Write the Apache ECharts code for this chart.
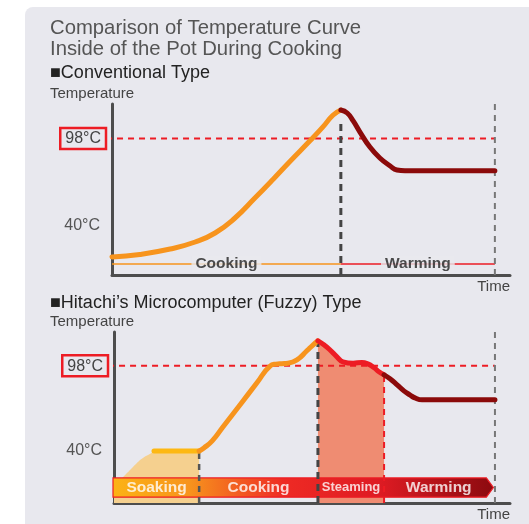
<!DOCTYPE html>
<html><head><meta charset="utf-8">
<script src="https://cdn.jsdelivr.net/npm/echarts@6/dist/echarts.min.js"></script>
<style>html,body{margin:0;padding:0;background:#fff}#c{width:529px;height:524px}</style>
</head><body><div id="c"></div>
<script>
// ---------- texts ----------
const titleLines = ['Comparison of Temperature Curve', 'Inside of the Pot During Cooking'];
const topHeading = '■Conventional Type';
const bottomHeading = '■Hitachi\u2019s Microcomputer (Fuzzy) Type';
const yAxisName = 'Temperature';
const xAxisName = 'Time';
const tempTicks = [40, 98];
const highlightTemp = 98;

// ---------- conventional type (time as % of axis, temperature °C, schematic) ----------
const convCookTime = [0, 7.0, 14.6, 20.9, 25.9, 30.9, 35.9, 40.5, 44.7, 49.8, 53.0, 55.5, 57.5];
const convCookTemp = [19, 20.7, 24.3, 29, 35, 45, 58.3, 70.9, 82.7, 96.6, 105.7, 113.5, 117];
const convWarmTime = [57.5, 59.1, 60.6, 62.3, 64.8, 67.3, 69.9, 71.6, 73.6, 96.2];
const convWarmTemp = [117, 115, 109.7, 102.3, 92.3, 85, 79.7, 77, 76.5, 76.5];
const convPhases = ['Cooking', 'Warming'];
const convPhaseBounds = [0, 57.5, 96.2];
const convPeakMarkTemp = 109;

// ---------- fuzzy type ----------
const soakFillTime = [0, 1.0, 2.3, 4.3, 5.8, 7.3, 8.6, 10.1, 11.6, 21.5];
const soakFillTemp = [15.4, 18.1, 22.2, 27.7, 31.8, 35.2, 37.2, 39.3, 40, 40];
const soakTime = [10.1, 21.5];
const soakTemp = [40, 40];
const cookTime = [21.5, 22.7, 24.8, 27.5, 31.8, 36.1, 39.4, 40.9, 42.4, 43.9, 46.2, 48.7, 50.3, 51.5];
const cookTemp = [40, 42.0, 46.8, 56.3, 71.3, 86.4, 97.8, 99.1, 99.4, 99.7, 102.0, 108.2, 112.3, 115.0];
const steamTime = [51.5, 53.0, 54.5, 56.3, 57.8, 60.4, 62.6, 64.1, 65.7, 66.9, 68.2];
const steamTemp = [115.0, 112.3, 108.9, 104.1, 100.7, 99.7, 100.3, 99.3, 96.6, 93.9, 91.8];
const warmTime = [68.2, 69.7, 71.5, 73.2, 74.7, 76.0, 77.8, 96.2];
const warmTemp = [91.8, 89.1, 85, 80.9, 78.2, 76.1, 74.8, 74.8];
const fuzzyPhases = ['Soaking', 'Cooking', 'Steaming', 'Warming'];
const fuzzyPhaseBounds = [0, 21.5, 51.5, 68.2, 95.8];
const fuzzyEndTime = 96.2;

// ---------- helpers ----------
const zip = (xs, ys) => xs.map((x, i) => [x, ys[i]]);
const PANEL = '#e8e8ee';
const FONT = '"Liberation Sans", Arial, Helvetica, sans-serif';
const ORANGE = '#f7941d', YELLOW = '#fdb813', RED = '#ed1c24', DARKRED = '#8b0a0a';
const SMOOTH = 0.5;

const chart = echarts.init(document.getElementById('c'), null, {renderer: 'canvas'});

function xAx(grid) {
  return {
    gridIndex: grid, type: 'value', min: 0, max: 100,
    axisLine: {lineStyle: {color: '#4d4d4d', width: 3}},
    axisTick: {show: false}, axisLabel: {show: false}, splitLine: {show: false},
    name: xAxisName, nameLocation: 'end', nameGap: 0,
    nameTextStyle: {color: '#444', fontSize: 15, fontFamily: FONT, align: 'right', verticalAlign: 'top', padding: [4, 0, 0, 0]}
  };
}
function yAx(grid, min, max) {
  return {
    gridIndex: grid, type: 'value', min: min, max: max,
    axisLine: {show: true, lineStyle: {color: '#4d4d4d', width: 3}},
    axisTick: {show: false}, splitLine: {show: false},
    axisLabel: {
      customValues: tempTicks, margin: 6,
      formatter: v => (v === highlightTemp ? '{box|' + v + '°C}' : '{plain|' + v + '°C}'),
      rich: {
        box: {fontSize: 16, color: '#444', fontFamily: FONT, borderColor: RED, borderWidth: 2.5, padding: [3, 5, 2, 5]},
        plain: {fontSize: 16, color: '#555', fontFamily: FONT, padding: [0, 6, 0, 0]}
      }
    }
  };
}
function curve(grid, data, color, extra) {
  return Object.assign({
    type: 'line', xAxisIndex: grid, yAxisIndex: grid, data: data, smooth: SMOOTH,
    symbol: 'none', silent: true, z: 6,
    lineStyle: {color: color, width: 5, cap: 'round', join: 'round'}
  }, extra || {});
}
function vline(grid, t, t0, t1, color, width, dash, z) {
  return {
    type: 'line', xAxisIndex: grid, yAxisIndex: grid, data: [[t, t0], [t, t1]], symbol: 'none', silent: true,
    z: z || 5, clip: false, lineStyle: {color: color, width: width, type: dash}
  };
}
function hline(grid, y, x0, x1, color, width, dash, z) {
  return {
    type: 'line', xAxisIndex: grid, yAxisIndex: grid, data: [[x0, y], [x1, y]], symbol: 'none', silent: true,
    z: z || 5, clip: false, lineStyle: {color: color, width: width, type: dash}
  };
}

const TOPMIN = 7, TOPMAX = 121, BOTMIN = 4.5, BOTMAX = 121;
const series = [];

// ----- top chart -----
series.push(hline(0, highlightTemp, -1.5, convPhaseBounds[2], RED, 2, [6, 5], 3));
series.push(vline(0, convPhaseBounds[1], TOPMIN, convPeakMarkTemp, '#444', 3, [7, 5], 4));
series.push(vline(0, convPhaseBounds[2], TOPMIN, TOPMAX, '#777', 2, [6, 5], 4));
const topPhaseY = 14.3;
series.push(hline(0, topPhaseY, convPhaseBounds[0], convPhaseBounds[1], ORANGE, 1.5, 'solid', 3));
series.push(hline(0, topPhaseY, convPhaseBounds[1], convPhaseBounds[2], RED, 1.5, 'solid', 3));
series.push({
  type: 'scatter', xAxisIndex: 0, yAxisIndex: 0, symbolSize: 0, silent: true, z: 7,
  data: convPhases.map((n, i) => ({name: n, value: [(convPhaseBounds[i] + convPhaseBounds[i + 1]) / 2, topPhaseY]})),
  label: {show: true, position: 'inside', formatter: '{b}', color: '#222', fontWeight: 'bold', fontSize: 15.5,
    fontFamily: FONT, backgroundColor: PANEL, padding: [1, 4, 0, 4]}
});
series.push(curve(0, zip(convCookTime, convCookTemp), ORANGE));
series.push(curve(0, zip(convWarmTime, convWarmTemp), DARKRED));

// ----- bottom chart -----
series.push({
  type: 'line', xAxisIndex: 1, yAxisIndex: 1, data: zip(soakFillTime, soakFillTemp), smooth: SMOOTH,
  symbol: 'none', silent: true, z: 2, lineStyle: {width: 0}, areaStyle: {color: '#f5d08f', opacity: 1, origin: 'start'}
});
series.push({
  type: 'line', xAxisIndex: 1, yAxisIndex: 1, data: zip(steamTime, steamTemp), smooth: SMOOTH,
  symbol: 'none', silent: true, z: 2, lineStyle: {width: 0}, areaStyle: {color: '#ef8c72', opacity: 1, origin: 'start'}
});
series.push(hline(1, highlightTemp, -1.5, fuzzyEndTime, RED, 2, [6, 5], 3));
// phase band (arrow)
series.push({
  type: 'custom', xAxisIndex: 1, yAxisIndex: 1, silent: true, z: 4,
  data: [[fuzzyPhaseBounds[0], fuzzyPhaseBounds[fuzzyPhaseBounds.length - 1]]],
  renderItem: function (params, api) {
    const p0 = api.coord([api.value(0), 21.6]);
    const p1 = api.coord([api.value(1), 8.5]);
    const l = p0[0] - 1, r = p1[0], t = p0[1], b = p1[1], m = (t + b) / 2, tip = 7;
    return {
      type: 'polygon',
      shape: {points: [[l, t], [r - tip, t], [r, m], [r - tip, b], [l, b]]},
      style: {
        fill: new echarts.graphic.LinearGradient(0, 0, 1, 0, [
          {offset: 0, color: '#fcb315'}, {offset: 0.2, color: '#f7941d'}, {offset: 0.45, color: '#ee2a24'},
          {offset: 0.7, color: '#de1b23'}, {offset: 1, color: '#8b0a0f'}]),
        stroke: RED, lineWidth: 1.2
      }
    };
  }
});
series.push({
  type: 'scatter', xAxisIndex: 1, yAxisIndex: 1, symbolSize: 0, silent: true, z: 7,
  data: fuzzyPhases.map((n, i) => ({
    name: n, value: [(fuzzyPhaseBounds[i] + fuzzyPhaseBounds[i + 1]) / 2, 15.05],
    label: n === 'Steaming' ? {fontSize: 13} : {}
  })),
  label: {show: true, position: 'inside', formatter: '{b}', color: '#fff', fontWeight: 'bold', fontSize: 15.5, fontFamily: FONT}
});
series.push(vline(1, fuzzyPhaseBounds[1], BOTMIN, soakTemp[0], '#555', 2.5, [6, 5], 5));
series.push(vline(1, fuzzyPhaseBounds[2], BOTMIN, 117.7, '#444', 3, [7, 5], 5));
series.push(vline(1, fuzzyPhaseBounds[3], BOTMIN, steamTemp[steamTemp.length - 1], RED, 2, [6, 5], 5));
series.push(vline(1, fuzzyEndTime, BOTMIN, BOTMAX, '#777', 2, [6, 5], 5));
series.push(curve(1, zip(soakTime, soakTemp), YELLOW, {smooth: false}));
series.push(curve(1, zip(cookTime, cookTemp), ORANGE));
series.push(curve(1, zip(steamTime, steamTemp), RED));
series.push(curve(1, zip(warmTime, warmTemp), DARKRED));

const txt = (s, x, y, size, color, weight) => ({
  type: 'text', left: x, top: y, z: 10, silent: true,
  style: {text: s, fontSize: size, fill: color, fontFamily: FONT, fontWeight: weight || 'normal'}
});

chart.setOption({
  animation: false,
  backgroundColor: '#fff',
  grid: [
    {left: 112, top: 104, width: 398, height: 171},
    {left: 114, top: 332, width: 396, height: 171}
  ],
  xAxis: [xAx(0), xAx(1)],
  yAxis: [yAx(0, TOPMIN, TOPMAX), yAx(1, BOTMIN, BOTMAX)],
  graphic: [
    {type: 'rect', left: 25, top: 7, z: -10, silent: true, shape: {width: 520, height: 530, r: 8}, style: {fill: PANEL}},
    txt(titleLines[0], 50, 18, 20.3, '#555'),
    txt(titleLines[1], 50, 39, 20.3, '#555'),
    txt(topHeading, 50, 64, 18, '#222'),
    txt(yAxisName, 50, 86, 15, '#444'),
    txt(bottomHeading, 50, 294, 18, '#222'),
    txt(yAxisName, 50, 314, 15, '#444')
  ],
  series: series
});
</script>
</body></html>
